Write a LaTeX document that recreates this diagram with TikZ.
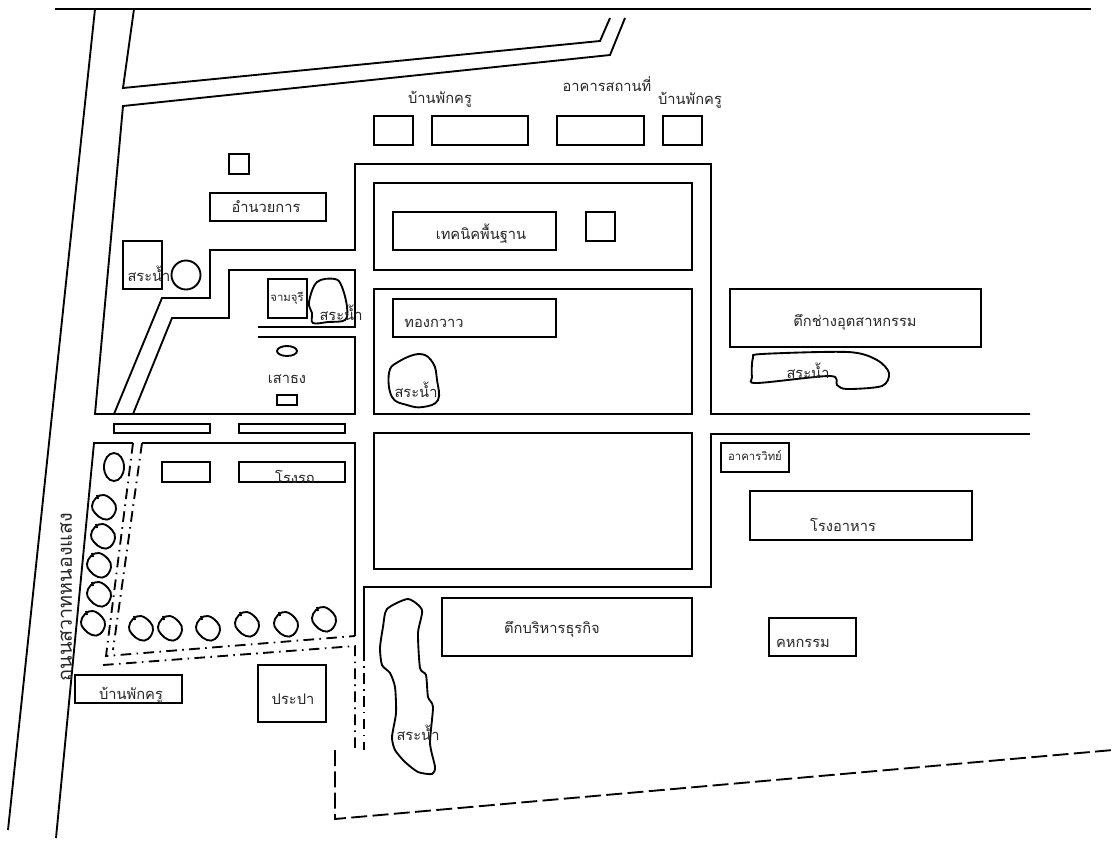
\documentclass[tikz,border=0pt]{standalone}
\usepackage{fontspec}
\newfontfamily\thaifont[Script=Thai]{Loma}
\usetikzlibrary{positioning}
\usetikzlibrary{calc}
\newcommand{\treeblob}[2]{\draw[outline] plot[smooth cycle, tension=0.7] coordinates {(#1-8,#2-9) (#1,#2-12) (#1+9,#2-6) (#1+12,#2+2) (#1+7,#2+11) (#1-1,#2+12) (#1-9,#2+6) (#1-12,#2-1)}; \draw[outline] (#1-7,#2-12) -- (#1-6,#2-8);}
\tikzset{
  outline/.style={draw=black, line width=1.4pt, line join=miter},
  dashdot/.style={outline, dash pattern=on 8pt off 4pt on 1.2pt off 4pt},
  label/.style={font=\thaifont\fontsize{11}{13}\selectfont, inner sep=0pt, text=black!85},
  smalllabel/.style={font=\thaifont\fontsize{8.5}{10}\selectfont, inner sep=0pt, text=black!85}
}
\begin{document}
\begin{tikzpicture}[x=0.75pt, y=-0.75pt]
  \useasboundingbox (0,0) rectangle (1113,847);

  % roads
  \draw[outline] (55,9) -- (1091,9);
  \draw[outline] (95,9) -- (8,830);
  \draw[outline] (134,9) -- (123,88) -- (600,41) -- (610,18);
  \draw[outline] (625,18) -- (610,55) -- (123,106) -- (95,414) -- (355,414) -- (355,337) -- (258,337);
  \draw[outline] (258,327) -- (355,327) -- (355,270) -- (229,270) -- (229,318) -- (172,318) -- (133,414);
  \draw[outline] (114,414) -- (162,298) -- (210,298) -- (210,250) -- (355,250) -- (355,164) -- (711,164) -- (711,414) -- (1030,414);
  \draw[outline] (1030,434) -- (711,434) -- (711,587) -- (364,587) -- (364,650);
  \draw[outline] (56,838) -- (94,443) -- (133,443);
  \draw[outline] (142,443) -- (355,443) -- (355,636);

  % footpaths
  \draw[dashdot] (133,443) -- (106,656) -- (355,636);
  \draw[dashdot] (142,443) -- (113,650);
  \draw[dashdot] (103,665) -- (355,646) -- (355,750);
  \draw[dashdot] (364,650) -- (364,750);
  \draw[outline, dash pattern=on 12pt off 4pt] (335,750) -- (335,819) -- (1113,750);

  % top row
  \draw[outline] (374,116) rectangle (413,145);
  \draw[outline] (432,116) rectangle (528,145);
  \draw[outline] (557,116) rectangle (644,145);
  \draw[outline] (663,116) rectangle (702,145);
  \node[label] (housea) at (440,99) {บ้านพักครู};
  \node[label] (office) at (607,84) {อาคารสถานที่};
  \node[label] (houseb) at (690,100) {บ้านพักครู};

  % admin side
  \draw[outline] (229,154) rectangle (249,174);
  \draw[outline] (210,193) rectangle (326,221);
  \node[label] (admin) at (266,207) {อำนวยการ};
  \draw[outline] (123,241) rectangle (162,289);
  \node[label] (pondb) at (149,274) {สระน้ำ};
  \draw[outline] (186,275) circle (14.5);
  \draw[outline] (268,279) rectangle (307,318);
  \node[smalllabel] (jamjuree) at (287,298) {จามจุรี};
  \draw[outline] plot[smooth cycle, tension=0.6] coordinates {(309,302) (317,282) (335,279) (342,287) (347,307) (345,320) (328,322) (313,323) (312,313)};
  \node[label] (pondc) at (341,313) {สระน้ำ};
  \draw[outline] (287,351) ellipse (10 and 5);
  \node[label] (flag) at (287,379) {เสาธง};
  \draw[outline] (277,395) rectangle (297,405);

  % centre blocks
  \draw[outline] (374,183) rectangle (692,270);
  \draw[outline] (393,212) rectangle (556,250);
  \node[label] (basic) at (481,234) {เทคนิคพื้นฐาน};
  \draw[outline] (586,212) rectangle (615,241);
  \draw[outline] (374,289) rectangle (692,414);
  \draw[outline] (393,299) rectangle (556,337);
  \node[label] (thong) at (434,323) {ทองกวาว};
  \draw[outline] plot[smooth cycle, tension=0.7] coordinates {(389,373) (398,362) (420,354) (433,363) (437,380) (438,400) (423,407) (407,405) (392,397)};
  \node[label] (pondd) at (416,390) {สระน้ำ};
  \draw[outline] (374,433) rectangle (692,569);

  % strips and garage
  \draw[outline] (114,424) rectangle (210,433);
  \draw[outline] (239,424) rectangle (345,433);
  \draw[outline] (162,462) rectangle (210,482);
  \draw[outline] (239,462) rectangle (345,482);
  \node[label] (garage) at (295,477) {โรงรถ};
  \draw[outline] (114,467) ellipse (10 and 14);

  % trees
  \treeblob{104}{507}
  \treeblob{103}{536}
  \treeblob{99}{565}
  \treeblob{99}{594}
  \treeblob{93}{623}
  \treeblob{141}{628}
  \treeblob{170}{628}
  \treeblob{208}{628}
  \treeblob{247}{624}
  \treeblob{286}{624}
  \treeblob{324}{619}

  % bottom left
  \draw[outline] (75,675) rectangle (182,703);
  \node[label] (housec) at (131,695) {บ้านพักครู};
  \draw[outline] (258,665) rectangle (326,722);
  \node[label] (water) at (293,699) {ประปา};
  \node[label, rotate=90, font=\thaifont\fontsize{14.8}{17}\selectfont] (street) at (66,597) {ถนนสวาทหนองแสง};

  % long pond
  \draw[outline] plot[smooth cycle, tension=0.4] coordinates {(387,609) (408,599) (422,610) (418,633) (420,668) (426,675) (428,697) (433,707) (430,743) (435,767) (432,774) (418,772) (405,762) (395,750) (392,737) (396,713) (395,687) (390,673) (382,665) (380,648) (383,627)};
  \node[label] (ponde) at (418,733) {สระน้ำ};
  \draw[outline] (442,598) rectangle (692,656);
  \node[label] (business) at (552,629) {ตึกบริหารธุรกิจ};

  % right side
  \draw[outline] (730,289) rectangle (981,347);
  \node[label] (tech) at (855,322) {ตึกช่างอุตสาหกรรม};
  \draw[outline] plot[smooth cycle, tension=0.5] coordinates {(753,358) (762,354) (848,352) (877,360) (889,373) (882,386) (847,389) (837,385) (830,376) (757,383) (752,377)};
  \node[label] (pondf) at (808,371) {สระน้ำ};
  \draw[outline] (721,443) rectangle (789,472);
  \node[smalllabel] (science) at (755,456) {อาคารวิทย์};
  \draw[outline] (750,491) rectangle (972,540);
  \node[label] (canteen) at (843,525) {โรงอาหาร};
  \draw[outline] (769,618) rectangle (856,656);
  \node[label] (homeec) at (803,643) {คหกรรม};
\end{tikzpicture}
\end{document}
